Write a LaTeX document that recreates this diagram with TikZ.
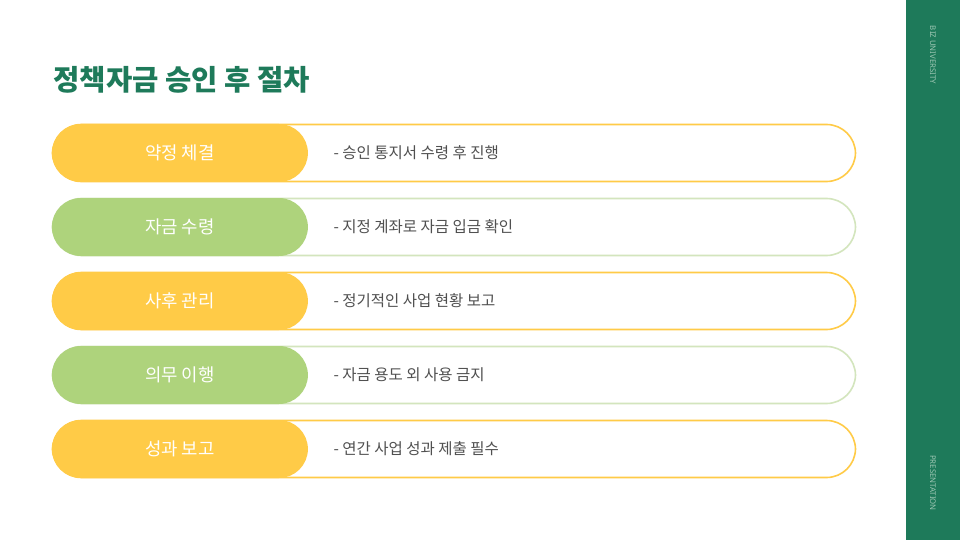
\documentclass[tikz,border=0pt]{standalone}
\usepackage{fontspec}
\setmainfont{Noto Sans CJK KR}
\newfontfamily\latinsans{Noto Sans}
\definecolor{bizgreen}{HTML}{1E7A5A}
\definecolor{pillyellow}{HTML}{FFCB47}
\definecolor{pillgreen}{HTML}{AED37C}
\definecolor{linegreen}{HTML}{D3E5BD}
\definecolor{desctext}{HTML}{505050}
\definecolor{sidetext}{HTML}{9EC7B4}
\tikzset{
  rowbox/.style={draw=#1, line width=1.6pt, fill=white, rounded corners=29pt,
    minimum width=803pt, minimum height=57pt, inner sep=0pt},
  stepbox/.style={fill=#1, rounded corners=29pt, minimum width=256pt,
    minimum height=58pt, inner sep=0pt, text=white, font=\fontsize{17.8}{21}\selectfont},
  desc/.style={anchor=west, text=desctext, font=\fontsize{15.5}{18}\selectfont},
  sidelabel/.style={rotate=-90, text=sidetext, font=\latinsans\fontsize{7.8}{9}\selectfont}
}
\begin{document}
\begin{tikzpicture}[x=1pt,y=-1pt]
        \useasboundingbox (0,0) rectangle (960,540);
        \fill[white] (0,0) rectangle (960,540);

        % side band
        \fill[bizgreen] (906,0) rectangle (960,540);
        \node[sidelabel] (biz) at (933, 55) {BIZ UNIVERSITY};
        \node[sidelabel] (pres) at (933, 483) {PRESENTATION};

        % title
        \node[anchor=west, text=bizgreen, font=\fontsize{28.6}{34}\selectfont\bfseries] (title) at (50, 80) {정책자금 승인 후 절차};

        % rows
        \node[rowbox=pillyellow] (row1) at (454, 153) {};
        \node[rowbox=linegreen] (row2) at (454, 227) {};
        \node[rowbox=pillyellow] (row3) at (454, 301) {};
        \node[rowbox=linegreen] (row4) at (454, 375) {};
        \node[rowbox=pillyellow] (row5) at (454, 449) {};

        \node[stepbox=pillyellow, anchor=west] (step1) at (row1.west) {약정 체결};
        \node[stepbox=pillgreen, anchor=west] (step2) at (row2.west) {자금 수령};
        \node[stepbox=pillyellow, anchor=west] (step3) at (row3.west) {사후 관리};
        \node[stepbox=pillgreen, anchor=west] (step4) at (row4.west) {의무 이행};
        \node[stepbox=pillyellow, anchor=west] (step5) at (row5.west) {성과 보고};

        \node[desc] (desc1) at (330, 153) {- 승인 통지서 수령 후 진행};
        \node[desc] (desc2) at (330, 227) {- 지정 계좌로 자금 입금 확인};
        \node[desc] (desc3) at (330, 301) {- 정기적인 사업 현황 보고};
        \node[desc] (desc4) at (330, 375) {- 자금 용도 외 사용 금지};
        \node[desc] (desc5) at (330, 449) {- 연간 사업 성과 제출 필수};

    \end{tikzpicture}
\end{document}
